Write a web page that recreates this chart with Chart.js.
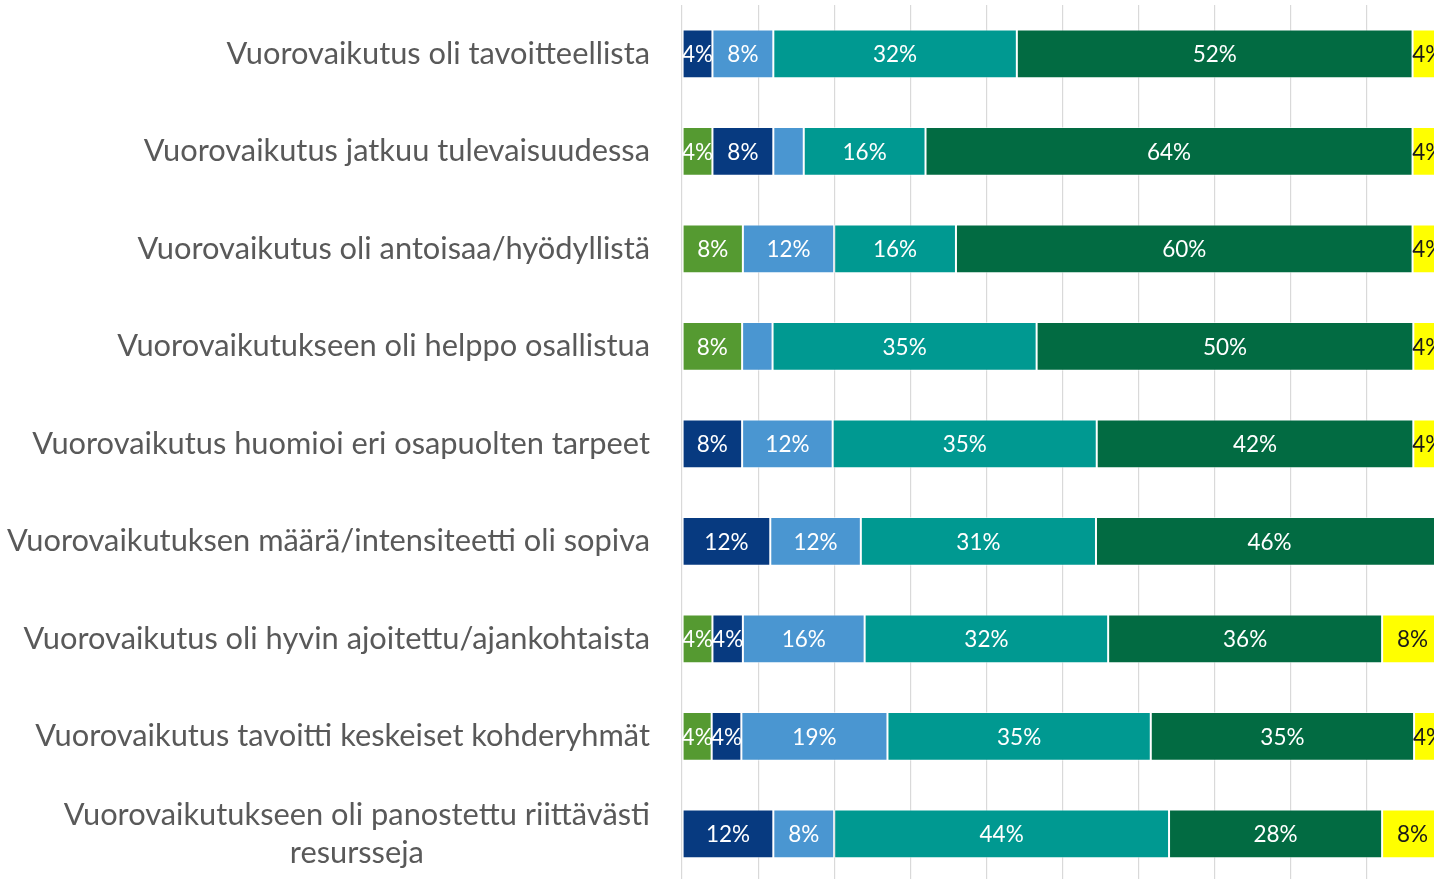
<!DOCTYPE html>
<html>
<head>
<meta charset="utf-8">
<script src="https://cdn.jsdelivr.net/npm/chart.js@4/dist/chart.umd.min.js"></script>
<style>
  html, body { margin: 0; padding: 0; background: #fff; overflow: hidden; }
  #wrap { width: 1444px; height: 884px; }
</style>
</head>
<body>
<div id="wrap"><canvas id="chart" width="1444" height="884"></canvas></div>
<script>
/* Vuorovaikutus — pinottu palkkikaavio (%) */

const categories = [
  ['Vuorovaikutus oli tavoitteellista'],
  ['Vuorovaikutus jatkuu tulevaisuudessa'],
  ['Vuorovaikutus oli antoisaa/hyödyllistä'],
  ['Vuorovaikutukseen oli helppo osallistua'],
  ['Vuorovaikutus huomioi eri osapuolten tarpeet'],
  ['Vuorovaikutuksen määrä/intensiteetti oli sopiva'],
  ['Vuorovaikutus oli hyvin ajoitettu/ajankohtaista'],
  ['Vuorovaikutus tavoitti keskeiset kohderyhmät'],
  ['Vuorovaikutukseen oli panostettu riittävästi', 'resursseja']
];

// sarjat vasemmalta oikealle
const green     = [null, 4,   8,    7.9,  null, null, 4,  3.9,  null];
const navy      = [4,    8,   null, null, 7.9,  11.6, 4,  3.9,  12];
const lightBlue = [8,    4,   12,   4,    11.9, 11.9, 16, 19.2, 8];
const teal      = [32,   16,  16,   34.7, 34.7, 30.9, 32, 34.6, 44];
const darkGreen = [52,   64,  60,   49.5, 41.6, 45.6, 36, 34.6, 28];
const yellow    = [4,    4,   4,    3.8,  3.8,  null, 8,  3.8,  8];

// arvot joilla ei ole näkyvää otsikkoa: [sarja, rivi]
const hiddenLabels = [[2, 1], [2, 3]];

const xTicks = [0, 10, 20, 30, 40, 50, 60, 70, 80, 90, 100];

const series = [
  { label: 'Sarja 1', data: green,     color: '#559a31', text: '#ffffff' },
  { label: 'Sarja 2', data: navy,      color: '#073a80', text: '#ffffff' },
  { label: 'Sarja 3', data: lightBlue, color: '#4a96d1', text: '#ffffff' },
  { label: 'Sarja 4', data: teal,      color: '#009991', text: '#ffffff' },
  { label: 'Sarja 5', data: darkGreen, color: '#026b42', text: '#ffffff' },
  { label: 'Sarja 6', data: yellow,    color: '#ffff00', text: '#1a1a1a' }
];

const FONT = 'Lato, "Open Sans", sans-serif';

// palkkien arvo-otsikot
const barLabels = {
  id: 'barLabels',
  afterDatasetsDraw(chart) {
    const ctx = chart.ctx;
    ctx.save();
    ctx.font = '22.5px ' + FONT;
    ctx.textAlign = 'center';
    ctx.textBaseline = 'middle';
    chart.data.datasets.forEach((ds, si) => {
      const meta = chart.getDatasetMeta(si);
      meta.data.forEach((bar, i) => {
        const v = ds.data[i];
        if (v == null) return;
        if (hiddenLabels.some(h => h[0] === si && h[1] === i)) return;
        ctx.fillStyle = series[si].text;
        ctx.fillText(Math.round(v) + '%', (bar.x + bar.base) / 2, bar.y + 1);
      });
    });
    ctx.restore();
  }
};

// kategorioiden nimet (viimeinen kaksirivinen, keskitetty)
const categoryLabels = {
  id: 'categoryLabels',
  afterDraw(chart) {
    const ctx = chart.ctx;
    const yScale = chart.scales.y;
    const right = 650;
    const lineH = 38;
    ctx.save();
    ctx.font = '30.8px ' + FONT;
    ctx.fillStyle = '#595959';
    ctx.textBaseline = 'middle';
    categories.forEach((lines, i) => {
      const cy = yScale.getPixelForValue(i);
      if (lines.length === 1) {
        ctx.textAlign = 'right';
        ctx.fillText(lines[0], right, cy);
      } else {
        const w = ctx.measureText(lines[0]).width;
        const cx = right - w / 2;
        ctx.textAlign = 'center';
        lines.forEach((ln, k) => {
          ctx.fillText(ln, cx, cy + (k - (lines.length - 1) / 2) * lineH);
        });
      }
    });
    ctx.restore();
  }
};

new Chart(document.getElementById('chart').getContext('2d'), {
  type: 'bar',
  data: {
    labels: categories.map(c => c.join(' ')),
    datasets: series.map(s => ({
      label: s.label,
      data: s.data,
      backgroundColor: s.color,
      borderColor: 'rgba(255,255,255,0.55)',
      borderWidth: 1,
      borderSkipped: false,
      barPercentage: 0.5,
      categoryPercentage: 1
    }))
  },
  options: {
    indexAxis: 'y',
    responsive: false,
    animation: false,
    layout: { padding: { top: 5, right: 1, bottom: 1.5, left: 0 } },
    plugins: {
      legend: { display: false },
      tooltip: { enabled: false }
    },
    scales: {
      x: {
        stacked: true,
        min: 0,
        max: 100,
        afterBuildTicks: scale => { scale.ticks = xTicks.map(v => ({ value: v })); },
        ticks: { display: false },
        grid: { color: '#d9d9d9', lineWidth: 1.2, drawTicks: false },
        border: { display: false }
      },
      y: {
        stacked: true,
        ticks: { display: false },
        grid: { display: false },
        border: { display: false },
        afterFit: scale => { scale.width = 682; }
      }
    }
  },
  plugins: [barLabels, categoryLabels]
});
</script>
</body>
</html>
